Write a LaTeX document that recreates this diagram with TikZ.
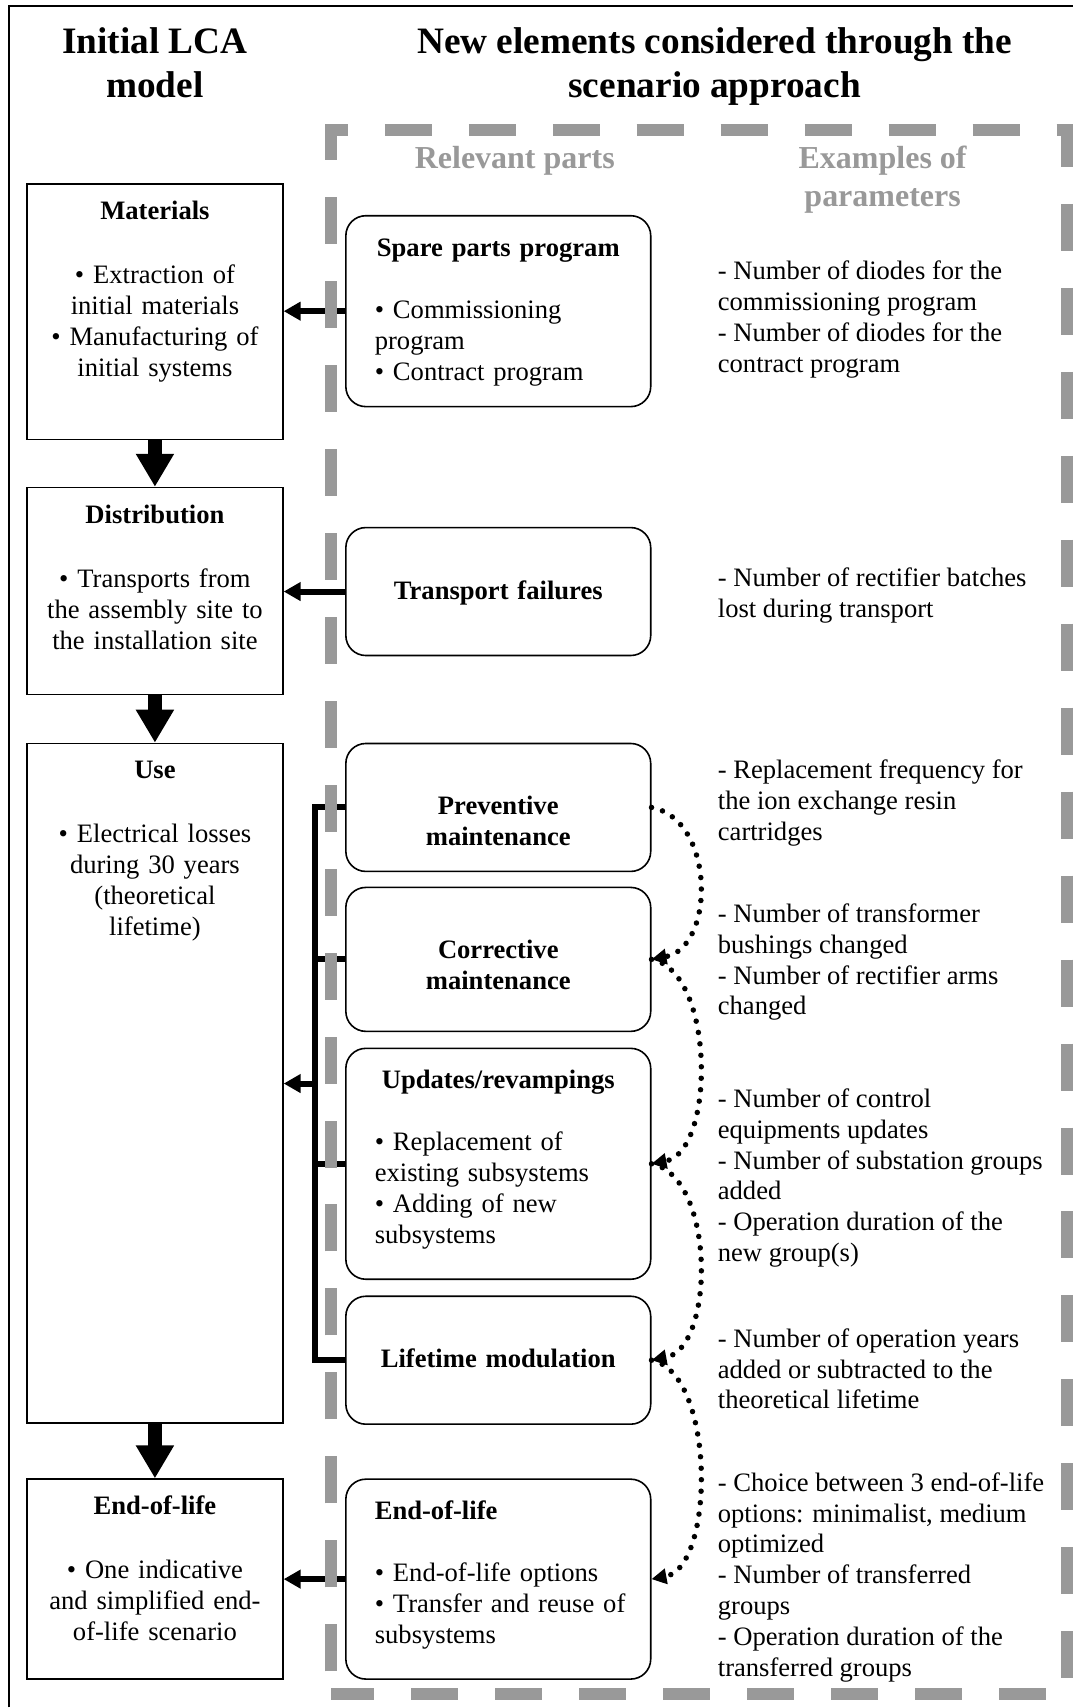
\documentclass[tikz,border=0pt]{standalone}
\usepackage{fontspec}
\setmainfont{Liberation Serif}
\usetikzlibrary{arrows.meta}

\definecolor{scengray}{RGB}{153,153,153}

\newcommand{\boxfont}{\fontsize{26.6pt}{31pt}\selectfont}
\newcommand{\parfont}{\fontsize{26.6pt}{30.8pt}\selectfont}
\newcommand{\headfont}{\fontsize{37.3pt}{44pt}\selectfont\bfseries}
\newcommand{\subheadfont}{\fontsize{32pt}{38pt}\selectfont\bfseries}

\tikzset{
  stagebox/.style={draw, line width=1.6pt, text width=240pt, align=center,
    inner xsep=8pt, inner ysep=16.5pt, text height=19pt, font=\boxfont},
  partbox/.style={draw, line width=1.6pt, rounded corners=20pt, text width=247pt,
    inner xsep=29pt, inner ysep=21.5pt, text height=19pt, font=\boxfont},
  paramlist/.style={anchor=north west, inner sep=0pt, align=left, font=\parfont},
  stagearrow/.style={line width=14pt, -{Triangle[width=36pt,length=33pt]}},
  feedline/.style={line width=6pt},
  feedarrow/.style={feedline, -{Triangle[width=18pt,length=17pt]}},
  nextpart/.style={line width=5.5pt, line cap=round, dash pattern=on 0pt off 11.5pt,
    -{Triangle[width=15pt,length=15pt]}},
}

\begin{document}
\begin{tikzpicture}[x=1pt, y=-1pt]

  \fill[white] (0,0) rectangle (1073,1708);
  % outer frame, only its top and left sides show
  \draw[line width=1.5pt] (9,1708) -- (9,6) -- (1073,6);

  % ---------------- headings ----------------
  \node[anchor=north, align=center, font=\headfont] (lcahead) at (155,24)
    {Initial LCA\\model};
  \node[anchor=north, align=center, font=\headfont] (scenhead) at (715,24)
    {New elements considered through the\\scenario approach};
  \node[anchor=north, font=\subheadfont, text=scengray] (parthead) at (515,143)
    {Relevant parts};
  \node[anchor=north, align=center, font=\subheadfont, text=scengray] (paramhead) at (883,143)
    {Examples of\\parameters};

  % ---------------- initial LCA model: the four stages ----------------
  \node[stagebox, anchor=north, text depth=204pt] (mat) at (155,183)
    {\textbf{Materials}\\[33pt]\textbullet{} Extraction of\\initial materials\\\textbullet{} Manufacturing of\\initial systems};
  \node[stagebox, anchor=north, text depth=155pt] (dist) at (155,487)
    {\textbf{Distribution}\\[33pt]\textbullet{} Transports from\\the assembly site to\\the installation site};
  \node[stagebox, anchor=north, text depth=628pt] (use) at (155,743)
    {\textbf{Use}\\[33pt]\textbullet{} Electrical losses\\during 30 years\\(theoretical\\lifetime)};
  \node[stagebox, anchor=north, text depth=148pt] (eol) at (155,1479)
    {\textbf{End-of-life}\\[33pt]\textbullet{} One indicative\\and simplified end-\\of-life scenario};

  \draw[stagearrow] (mat) -- (dist);
  \draw[stagearrow] (dist) -- (use);
  \draw[stagearrow] (use) -- (eol);

  % ---------------- relevant parts ----------------
  \node[partbox, align=left, anchor=north, text depth=129pt] (spare) at (498.5,215)
    {\makebox[\linewidth]{\textbf{Spare parts program}}\\[31pt]\textbullet{} Commissioning\\program\\\textbullet{} Contract program};
  \node[partbox, align=center, anchor=north, text depth=66pt] (transp) at (498.5,527)
    {\mbox{}\\\textbf{Transport failures}};
  \node[partbox, align=center, anchor=north, text depth=66pt] (prev) at (498.5,743)
    {\mbox{}\\\textbf{Preventive}\\\textbf{maintenance}};
  \node[partbox, align=center, anchor=north, text depth=82pt] (corr) at (498.5,887)
    {\mbox{}\\\textbf{Corrective}\\\textbf{maintenance}};
  \node[partbox, align=left, anchor=north, text depth=169pt] (upd) at (498.5,1048)
    {\makebox[\linewidth]{\textbf{Updates/revampings}}\\[31pt]\textbullet{} Replacement of\\existing subsystems\\\textbullet{} Adding of new\\subsystems};
  \node[partbox, align=center, anchor=north, text depth=66pt] (life) at (498.5,1296)
    {\mbox{}\\\textbf{Lifetime modulation}};
  \node[partbox, align=left, anchor=north, text depth=138pt] (parteol) at (498.5,1479)
    {\textbf{End-of-life}\\[31pt]\textbullet{} End-of-life options\\\mbox{\textbullet{} Transfer and reuse of}\\subsystems};

  % parts feeding the stages
  \draw[feedarrow] (spare.west) -- (spare.west -| mat.east);
  \draw[feedarrow] (transp.west) -- (transp.west -| dist.east);
  \draw[feedarrow] (parteol.west) -- (parteol.west -| eol.east);
  % the use phase collects four parts
  \coordinate (bus) at (315,1084);
  \draw[feedline] (prev.west) -| (bus) |- (life.west);
  \draw[feedline] (corr.west) -- (corr.west -| bus);
  \draw[feedline] (upd.west) -- (upd.west -| bus);
  \draw[feedarrow] (bus) -- (bus -| use.east);

  % dotted links from part to part
  \draw[nextpart] (prev.east) .. controls +(64,12) and +(64,-12) .. (corr.east);
  \draw[nextpart] (corr.east) .. controls +(64,12) and +(64,-12) .. (upd.east);
  \draw[nextpart] (upd.east) .. controls +(64,12) and +(64,-12) .. (life.east);
  \draw[nextpart] (life.east) .. controls +(64,12) and +(64,-12) .. (parteol.east);

  % ---------------- examples of parameters ----------------
  \node[paramlist] (sparepar) at (718,261)
    {- Number of diodes for the\\commissioning program\\- Number of diodes for the\\contract program};
  \node[paramlist] (transppar) at (718,568)
    {- Number of rectifier batches\\lost during transport};
  \node[paramlist] (prevpar) at (718,760)
    {- Replacement frequency for\\the ion exchange resin\\cartridges};
  \node[paramlist] (corrpar) at (718,904)
    {- Number of transformer\\bushings changed\\- Number of rectifier arms\\changed};
  \node[paramlist] (updpar) at (718,1089)
    {- Number of control\\equipments updates\\- Number of substation groups\\added\\- Operation duration of the\\new group(s)};
  \node[paramlist] (lifepar) at (718,1329)
    {- Number of operation years\\added or subtracted to the\\theoretical lifetime};
  \node[paramlist] (eolpar) at (718,1473)
    {- Choice between 3 end-of-life\\options: minimalist, medium\\optimized\\- Number of transferred\\groups\\- Operation duration of the\\transferred groups};

  % scenario frame, drawn last: it lies over the connectors
  \draw[scengray, line width=12pt, dash pattern=on 47pt off 37pt, dash phase=61pt]
    (331,1695) -- (331,130) -- (1067,130) -- (1067,1695) -- cycle;

\end{tikzpicture}
\end{document}
